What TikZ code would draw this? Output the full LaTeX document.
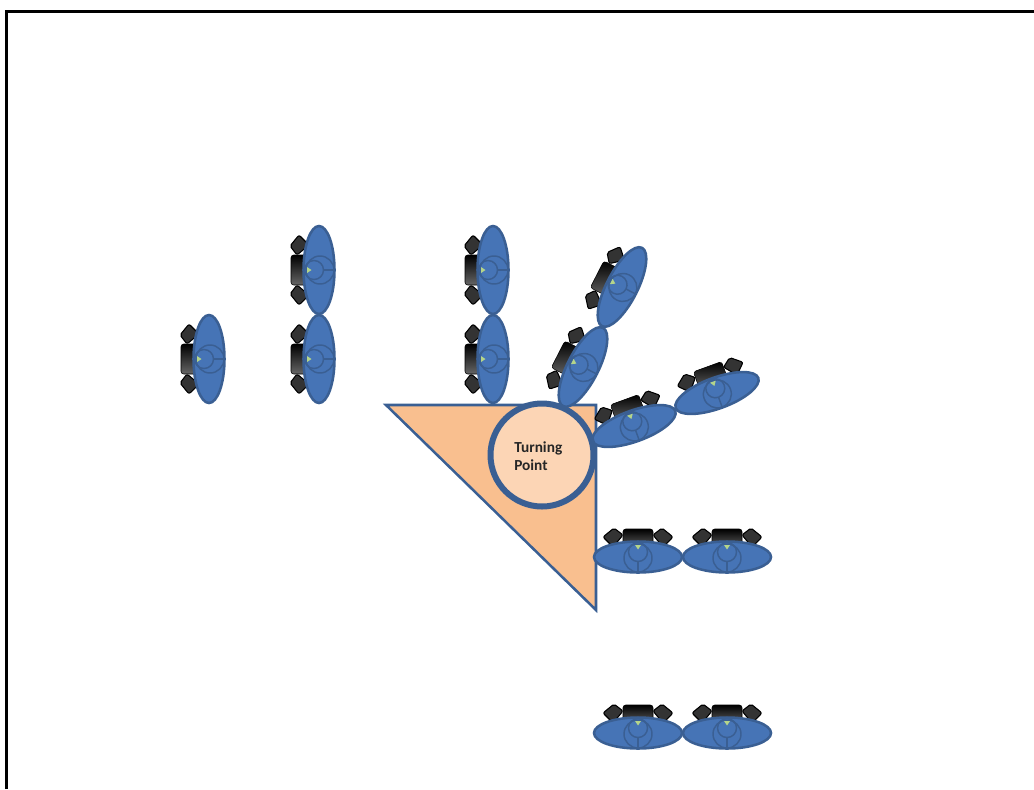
\documentclass[tikz,border=0pt]{standalone}
\usepackage{fontspec}
\setmainfont{Carlito}
\usepackage{xcolor}
\definecolor{robotblue}{HTML}{4674B6}
\definecolor{edgeblue}{HTML}{3A5F93}
\definecolor{wedgeorange}{HTML}{F9BF8F}
\definecolor{circleorange}{HTML}{FCD5B5}
\definecolor{markgreen}{HTML}{B5D58A}
\tikzset{
	wheelbox/.style={fill=black!80, draw=black, line width=0.8pt, rounded corners=1.5},
	robot/.pic={
		\draw[wheelbox] (-35,-20) -- (-24,-29) -- (-15,-22) -- (-25,-10) -- cycle;
		\draw[wheelbox] (35,-20) -- (24,-29) -- (15,-22) -- (25,-10) -- cycle;
		\draw[rounded corners=2, draw=black, top color=black, bottom color=black!60] (-15,-28) rectangle (15,-8);
		\draw[fill=robotblue, draw=edgeblue, line width=1.9pt] (0,0) ellipse (44 and 15.5);
		\draw[draw=edgeblue, line width=1.1pt] (0,1) circle (14);
		\draw[draw=edgeblue, line width=1.1pt] (0,-5) circle (9.5);
		\draw[draw=edgeblue, line width=1.1pt] (0,5) -- (0,15);
		\fill[markgreen] (-3,-12) -- (3,-12) -- (0,-7.5) -- cycle;
	}
}
\begin{document}
\begin{tikzpicture}[x=0.75pt, y=-0.75pt]
	\useasboundingbox (0,0) rectangle (1034,789);
	\draw[line width=2.25pt] (6.5,789) -- (6.5,11.5) -- (1034,11.5);

	\draw[fill=wedgeorange, draw=edgeblue, line width=1.9pt] (386,405) -- (596,405) -- (596,610) -- cycle;

	\foreach \x/\y/\a in {209/359/90, 319/270/90, 319/359/90, 493/270/90, 493/359/90,
		622/287/63, 583/367/63, 634/426/20, 717/393/20,
		638/557/0, 727/557/0, 638/733/0, 727/733/0} {
		\pic[rotate=\a] at (\x,\y) {robot};
	}

	\node[circle, minimum size=103*0.75pt, inner sep=0pt, fill=circleorange, draw=edgeblue, line width=4.5pt] (turn) at (542,455) {};
	\node[anchor=west, align=left, inner sep=0pt, font=\fontsize{11.5}{13.5}\selectfont\bfseries, text=black!85] (turnlabel) at (514,456) {Turning\\Point};
\end{tikzpicture}
\end{document}
